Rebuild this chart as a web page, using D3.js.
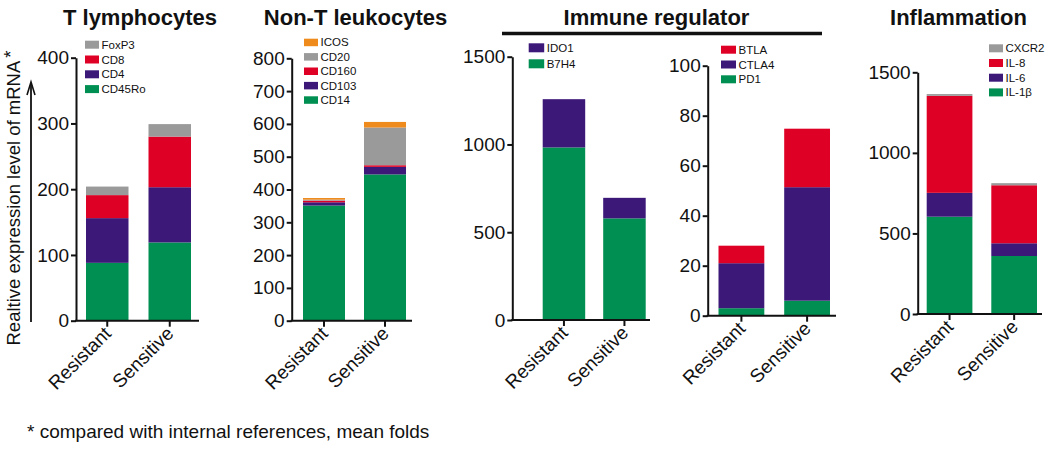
<!DOCTYPE html>
<html>
<head>
<meta charset="utf-8">
<script src="https://cdn.jsdelivr.net/npm/d3@7"></script>
<style>
  html, body { margin: 0; padding: 0; background: #fff; }
  svg { display: block; font-family: "Liberation Sans", Arial, sans-serif; }
</style>
</head>
<body>
<svg id="chart" width="1050" height="449"></svg>
<script>
// ---------------- DATA ----------------
const groups = ["Resistant", "Sensitive"];

const tSeries = ["CD45Ro", "CD4", "CD8", "FoxP3"];
const tResistant = [88, 68, 35, 13];
const tSensitive = [119, 84, 77, 19];
const tTicks = [0, 100, 200, 300, 400];

const nSeries = ["CD14", "CD103", "CD160", "CD20", "ICOS"];
const nResistant = [351, 10, 5, 3, 5];
const nSensitive = [446, 23, 5, 115, 17];
const nTicks = [0, 100, 200, 300, 400, 500, 600, 700, 800];

const iaSeries = ["B7H4", "IDO1"];
const iaResistant = [983, 275];
const iaSensitive = [579, 117];
const iaTicks = [0, 500, 1000, 1500];

const ibSeries = ["PD1", "CTLA4", "BTLA"];
const ibResistant = [3, 18, 7];
const ibSensitive = [6, 45.4, 23.4];
const ibTicks = [0, 20, 40, 60, 80, 100];

const fSeries = ["IL-1β", "IL-6", "IL-8", "CXCR2"];
const fResistant = [604, 148, 602, 11];
const fSensitive = [360, 79, 360, 13];
const fTicks = [0, 500, 1000, 1500];

const titles = ["T lymphocytes", "Non-T leukocytes", "Immune regulator", "Inflammation"];
const yTitle = "Realtive expression level of mRNA";
const footnote = "* compared with internal references, mean folds";

// ---------------- COLOURS ----------------
const C = {
  green: "#008f52", purple: "#3c1878", red: "#df0025",
  gray: "#9a9a9a", orange: "#ef8a1c"
};

const svg = d3.select("#chart");

function panel(cfg) {
  const g = svg.append("g");
  const max = cfg.ticks[cfg.ticks.length - 1];
  const y = d3.scaleLinear().domain([0, max]).range([cfg.y0, cfg.yTop]);

  // band scale whose range spans the drawn x axis
  const step = cfg.barR - cfg.barL - cfg.bw;
  const pi = 1 - cfg.bw / step;
  const outer = (cfg.ax1 - cfg.ax0) - (cfg.barR - cfg.barL);
  const x = d3.scaleBand().domain(groups).range([cfg.ax0, cfg.ax1])
    .paddingInner(pi).paddingOuter(outer / (2 * step)).align((cfg.barL - cfg.ax0) / outer);

  // stacked data
  const rows = groups.map((gName, gi) => {
    const r = { group: gName };
    cfg.series.forEach((s, si) => { r[s] = cfg.values[gi][si]; });
    return r;
  });
  const stacked = d3.stack().keys(cfg.series)(rows);

  g.selectAll("g.layer").data(stacked).join("g")
    .attr("fill", (d, i) => cfg.colors[i])
    .selectAll("rect").data(d => d).join("rect")
    .attr("x", d => x(d.data.group))
    .attr("width", x.bandwidth())
    .attr("y", d => y(d[1]))
    .attr("height", d => y(d[0]) - y(d[1]));

  // axes
  const yAxis = d3.axisLeft(y).tickValues(cfg.ticks).tickFormat(d3.format("d"))
    .tickSize(5).tickSizeOuter(0).tickPadding(2);
  const ya = g.append("g").attr("transform", `translate(${cfg.ax0},0)`).call(yAxis);
  ya.selectAll("text").attr("font-size", 19).attr("fill", "#111")
    .attr("font-family", "Liberation Sans, Arial, sans-serif");
  ya.selectAll("path, line").attr("stroke", "#111").attr("stroke-width", 2);

  const xAxis = d3.axisBottom(x).tickSize(6).tickSizeOuter(0).tickFormat("");
  const xa = g.append("g").attr("transform", `translate(0,${cfg.y0})`).call(xAxis);
  xa.selectAll("path, line").attr("stroke", "#111").attr("stroke-width", 2);
  xa.select(".domain").attr("d", `M${cfg.ax0 - 1},0H${cfg.ax1}`);

  g.selectAll("text.xl").data(groups).join("text")
    .attr("class", "xl")
    .attr("transform", d => `translate(${x(d) + x.bandwidth() / 2 + 5},${cfg.y0 + 14}) rotate(-45)`)
    .attr("text-anchor", "end")
    .attr("font-size", 19)
    .attr("fill", "#111")
    .text(d => d);

  // legend (top series first)
  const legItems = cfg.series.map((s, i) => ({ s, c: cfg.colors[i] })).reverse();
  const lg = g.append("g");
  legItems.forEach((it, i) => {
    const yy = cfg.leg.y + i * cfg.leg.dy;
    lg.append("rect").attr("x", cfg.leg.x).attr("y", yy)
      .attr("width", cfg.leg.w).attr("height", cfg.leg.h).attr("fill", it.c);
    lg.append("text").attr("x", cfg.leg.x + cfg.leg.w + 2.5).attr("y", yy + cfg.leg.h / 2 + 4)
      .attr("font-size", 11.5).attr("fill", "#111").text(it.s);
  });
}

panel({
  series: tSeries, values: [tResistant, tSensitive], ticks: tTicks,
  colors: [C.green, C.purple, C.red, C.gray],
  y0: 320.7, yTop: 57.7, ax0: 76, ax1: 199, barL: 86, barR: 191, bw: 42.5,
  leg: { x: 85, y: 40.7, dy: 14.8, w: 14, h: 8 }
});
panel({
  series: nSeries, values: [nResistant, nSensitive], ticks: nTicks,
  colors: [C.green, C.purple, C.red, C.gray, C.orange],
  y0: 320.7, yTop: 58.3, ax0: 291.7, ax1: 412, barL: 303, barR: 406, bw: 42,
  leg: { x: 304, y: 38.7, dy: 14.4, w: 14, h: 7.5 }
});
panel({
  series: iaSeries, values: [iaResistant, iaSensitive], ticks: iaTicks,
  colors: [C.green, C.purple],
  y0: 320, yTop: 56.7, ax0: 512.3, ax1: 650, barL: 542.7, barR: 645.7, bw: 42.5,
  leg: { x: 528.7, y: 43.3, dy: 16, w: 15.5, h: 9 }
});
panel({
  series: ibSeries, values: [ibResistant, ibSensitive], ticks: ibTicks,
  colors: [C.green, C.purple, C.red],
  y0: 315.7, yTop: 65.7, ax0: 707.7, ax1: 836, barL: 718.5, barR: 830, bw: 45.8,
  leg: { x: 721, y: 45.7, dy: 14.8, w: 15, h: 8 }
});
panel({
  series: fSeries, values: [fResistant, fSensitive], ticks: fTicks,
  colors: [C.green, C.purple, C.red, C.gray],
  y0: 314, yTop: 72.3, ax0: 917.7, ax1: 1042, barL: 926.7, barR: 1037, bw: 45.7,
  leg: { x: 989, y: 44.3, dy: 14.7, w: 14, h: 8 }
});

// titles
const titleX = [140, 355.5, 656.5, 958.5];
svg.selectAll("text.title").data(titles).join("text")
  .attr("class", "title")
  .attr("x", (d, i) => titleX[i]).attr("y", 25)
  .attr("text-anchor", "middle").attr("font-size", 22).attr("font-weight", "bold")
  .attr("fill", "#111").text(d => d);

svg.append("line").attr("x1", 502).attr("x2", 822).attr("y1", 33.5).attr("y2", 33.5)
  .attr("stroke", "#111").attr("stroke-width", 3.5);

// y title with arrow
const yt = svg.append("text")
  .attr("transform", "translate(20,198) rotate(-90)")
  .attr("text-anchor", "middle").attr("font-size", 18.5).attr("fill", "#111");
yt.append("tspan").text(yTitle);
yt.append("tspan").attr("dy", -3).attr("dx", 3).attr("font-size", 18.5).text("*");

svg.append("line").attr("x1", 31).attr("x2", 31).attr("y1", 322).attr("y2", 83)
  .attr("stroke", "#111").attr("stroke-width", 1.8);
svg.append("path").attr("d", "M27,95 L31,82 L35,95")
  .attr("fill", "none").attr("stroke", "#111").attr("stroke-width", 1.6);

// footnote
svg.append("text").attr("x", 27).attr("y", 438).attr("font-size", 19)
  .attr("fill", "#111").text(footnote);
</script>
</body>
</html>
